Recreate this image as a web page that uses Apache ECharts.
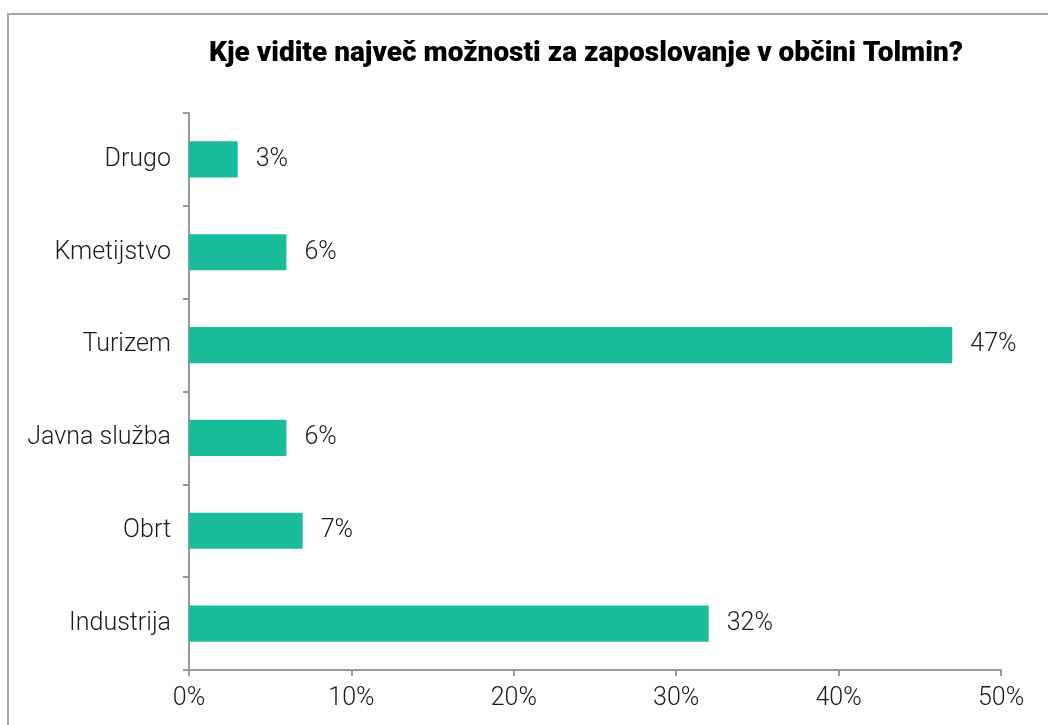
<!DOCTYPE html>
<html>
<head>
<meta charset="utf-8">
<script src="https://cdn.jsdelivr.net/npm/echarts@6/dist/echarts.min.js"></script>
<style>
  html, body { margin: 0; padding: 0; overflow: hidden; background: #fff; }
  #frame {
    position: absolute; left: 7px; top: 13px;
    width: 1200px; height: 900px;
    border: 2px solid #a6a6a6;
  }
  #chart { position: absolute; left: 0; top: 0; width: 1048px; height: 725px; }
</style>
</head>
<body>
<div id="frame"></div>
<div id="chart"></div>
<script>
// categories listed bottom to top
const categories = ["Industrija", "Obrt", "Javna služba", "Turizem", "Kmetijstvo", "Drugo"];
const shares = [32, 7, 6, 47, 6, 3];
const xTicks = [0, 10, 20, 30, 40, 50];

let myChart = echarts.init(document.getElementById("chart"));
let font = "Roboto";
let option = {
  animation: false,
  title: {
    text: "Kje vidite največ možnosti za zaposlovanje v občini Tolmin?",
    left: 581,
    top: 35,
    textAlign: "center",
    textStyle: {
      fontFamily: font,
      fontWeight: 900,
      fontSize: 28,
      color: "#000",
    },
  },
  grid: {
    left: 189,
    right: 47,
    top: 113,
    bottom: 55,
  },
  xAxis: {
    type: "value",
    min: xTicks[0],
    max: xTicks[xTicks.length - 1],
    interval: 10,
    splitLine: { show: false },
    axisLine: { show: true, lineStyle: { color: "#999", width: 2 } },
    axisTick: { show: true, length: 6, lineStyle: { color: "#999", width: 2 } },
    axisLabel: {
      formatter: "{value}%",
      margin: 16,
      fontFamily: font,
      fontWeight: 300,
      fontSize: 25,
      color: "#1a1a1a",
    },
  },
  yAxis: {
    type: "category",
    data: categories,
    axisLine: { show: true, lineStyle: { color: "#999", width: 2 } },
    axisTick: { show: true, length: 6, lineStyle: { color: "#999", width: 2 } },
    axisLabel: {
      margin: 18,
      fontFamily: font,
      fontWeight: 300,
      fontSize: 25,
      color: "#1a1a1a",
    },
  },
  series: [
    {
      type: "bar",
      data: shares,
      barWidth: "39%",
      itemStyle: { color: "#1abc9c" },
      label: {
        show: true,
        position: "right",
        distance: 18,
        formatter: "{c}%",
        fontFamily: font,
        fontWeight: 300,
        fontSize: 25,
        color: "#1a1a1a",
      },
    },
  ],
};
myChart.setOption(option);
</script>
</body>
</html>
